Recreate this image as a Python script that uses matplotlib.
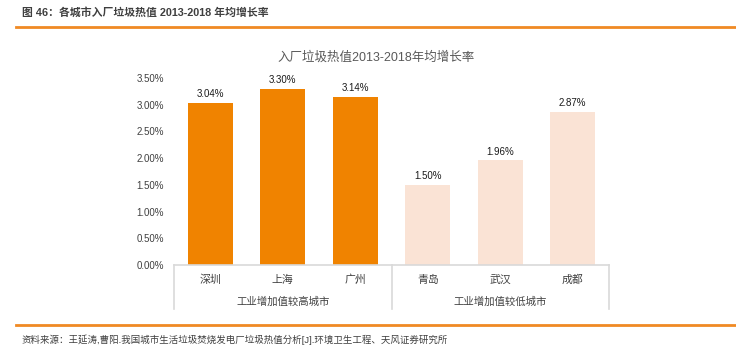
import numpy as np
import matplotlib
matplotlib.use("Agg")
import matplotlib.pyplot as plt
from matplotlib.transforms import blended_transform_factory

plt.rcParams['font.family'] = ['Liberation Sans', 'Noto Sans CJK SC', 'DejaVu Sans']

cities = ['深圳', '上海', '广州', '青岛', '武汉', '成都']
rates = [3.04, 3.30, 3.14, 1.50, 1.96, 2.87]
groups = ['工业增加值较高城市', '工业增加值较低城市']
group_size = [3, 3]
yticks = [0.0, 0.5, 1.0, 1.5, 2.0, 2.5, 3.0, 3.5]

dark = '#F08300'
light = '#FAE3D5'
colors = [dark] * group_size[0] + [light] * group_size[1]

fig = plt.figure(figsize=(7.36, 3.59), dpi=100)
ax = fig.add_axes([174 / 736, 94 / 359, 435 / 736, 187 / 359])

x = np.arange(len(cities))
ax.bar(x, rates, width=0.62, color=colors)
for xi, v in zip(x, rates):
    ax.text(xi, v + 0.07, '%.2f%%' % v, ha='center', va='bottom', fontsize=7, color='#1a1a1a')

ax.set_xlim(-0.5, len(cities) - 0.5)
ax.set_ylim(0, 3.5)
ax.set_yticks(yticks)
ax.set_yticklabels(['%.2f%%' % t for t in yticks], fontsize=7, color='#404040')
ax.set_xticks(x)
ax.set_xticklabels(cities, fontsize=7.8, color='#404040')
ax.tick_params(axis='both', length=0)
ax.tick_params(axis='y', pad=7)
ax.tick_params(axis='x', pad=7)
for s in ['left', 'right', 'top']:
    ax.spines[s].set_visible(False)
ax.spines['bottom'].set_color('#d9d9d9')
ax.spines['bottom'].set_linewidth(1.2)

# group separators and labels under the axis
tr = blended_transform_factory(ax.transData, ax.transAxes)
edges = np.concatenate([[0], np.cumsum(group_size)]) - 0.5
for e in edges:
    ax.plot([e, e], [0, -0.235], transform=tr, color='#d9d9d9', lw=1.2, clip_on=False)
for i, g in enumerate(groups):
    ax.text((edges[i] + edges[i + 1]) / 2, -0.195, g, transform=tr, ha='center', va='center',
            fontsize=7.5, color='#404040')

# chart title sits a bit left of the plot centre
ax.text(0.464, 1.112, '入厂垃圾热值2013-2018年均增长率', transform=ax.transAxes,
        ha='center', va='center', fontsize=9, color='#595959')

# report header and footer
fig.text(22 / 736, 1 - 12 / 359, '图 46：各城市入厂垃圾热值 2013-2018 年均增长率', fontsize=7.8,
         fontweight='bold', color='#3f3f3f', ha='left', va='center')
fig.add_artist(plt.Line2D([16 / 736, 1], [1 - 27 / 359, 1 - 27 / 359], color='#F08A24', lw=2))
fig.add_artist(plt.Line2D([16 / 736, 1], [1 - 325 / 359, 1 - 325 / 359], color='#F08A24', lw=2))
fig.text(22 / 736, 1 - 340 / 359, '资料来源：王延涛,曹阳.我国城市生活垃圾焚烧发电厂垃圾热值分析[J].环境卫生工程、天风证券研究所',
         fontsize=6.8, color='#3f3f3f', ha='left', va='center')

fig.savefig('out.png', dpi=100)
